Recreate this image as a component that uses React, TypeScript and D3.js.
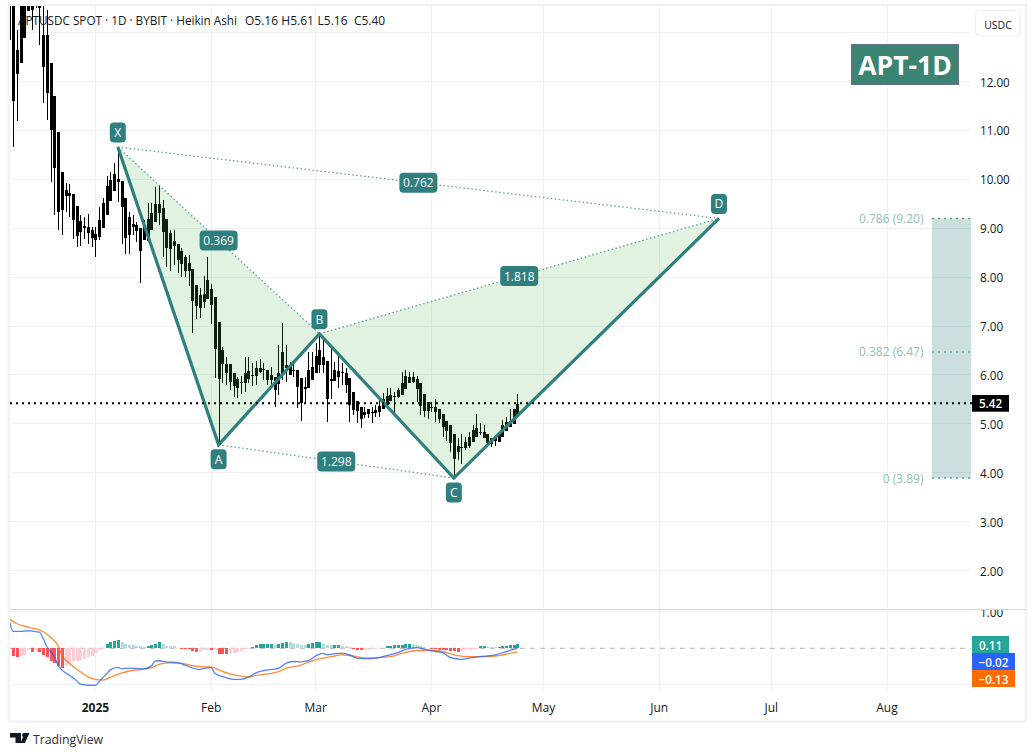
import React from "react";
import * as d3 from "d3";

// ---------- Data ----------
const firstCandleDate = Date.UTC(2024, 11, 9);
const highs = [
  14.2,14.5,13.05,14.4,14.2,14.2,14.2,14.3,14.2,14.2,
  13.46,12.38,11.70,10.97,10.15,9.93,9.90,9.70,9.45,9.27,
  9.23,9.29,9.02,9.02,9.43,9.62,10.07,10.15,10.33,10.66,
  9.97,9.62,9.33,9.27,9.13,9.00,9.17,9.52,9.52,9.84,
  9.86,9.58,9.19,8.96,8.96,8.68,8.60,8.45,8.45,8.17,
  7.84,7.78,8.02,8.41,7.86,7.59,7.08,6.57,6.37,6.22,
  6.04,5.96,5.98,6.37,6.37,6.24,6.28,6.33,6.24,6.10,
  6.16,5.96,6.61,7.06,6.61,6.27,6.24,6.10,5.94,5.96,
  6.47,6.47,6.65,6.82,6.78,6.28,6.55,6.26,6.39,6.24,
  6.14,5.94,5.65,5.47,5.34,5.34,5.30,5.34,5.39,5.49,
  5.63,5.73,5.73,5.65,5.73,6.06,6.10,6.06,6.06,5.98,
  5.84,5.61,5.45,5.45,5.51,5.30,5.20,5.06,4.98,4.79,
  4.71,4.79,4.73,4.83,4.98,5.20,5.02,4.98,4.79,4.71,
  4.77,4.79,5.08,5.14,5.30,5.30,5.61,
];
const bodyTops = [
  14.1,14.2,12.64,14.0,14.0,14.0,14.0,14.0,14.0,12.95,
  12.95,12.38,11.70,10.97,10.15,9.78,9.72,9.70,9.45,9.15,
  9.05,9.02,8.96,8.88,9.17,9.52,9.86,9.99,10.11,10.01,
  9.97,9.62,9.23,9.09,9.07,9.00,9.07,9.19,9.31,9.50,
  9.50,9.41,9.19,8.90,8.74,8.68,8.53,8.41,8.29,8.17,
  7.84,7.63,7.65,7.94,7.76,7.59,7.08,6.51,6.22,6.22,
  6.04,5.92,5.86,6.04,6.08,6.00,6.14,6.14,6.12,6.10,
  6.00,5.96,6.04,6.47,6.20,6.18,6.10,6.10,5.94,5.75,
  6.10,6.16,6.39,6.51,6.37,6.28,5.92,6.10,6.08,6.06,
  6.04,5.94,5.65,5.47,5.34,5.24,5.30,5.24,5.28,5.37,
  5.51,5.57,5.59,5.57,5.69,5.84,5.98,5.96,5.96,5.92,
  5.84,5.61,5.45,5.35,5.35,5.30,5.20,5.06,4.98,4.79,
  4.55,4.53,4.63,4.73,4.87,4.91,4.84,4.83,4.79,4.71,
  4.73,4.79,4.98,5.04,5.06,5.30,5.40,
];
const bodyBottoms = [
  14.0,11.60,12.15,12.38,12.89,13.44,13.46,13.55,13.50,12.30,
  11.77,11.01,10.23,9.33,9.37,9.66,9.66,9.17,8.84,8.92,
  9.00,8.90,8.80,8.76,8.82,9.00,9.27,9.56,9.76,9.95,
  9.43,8.80,8.86,9.02,8.94,8.53,8.76,8.74,8.96,9.13,
  9.31,8.92,8.60,8.57,8.64,8.35,8.27,8.12,8.12,7.51,
  7.41,7.37,7.49,7.55,7.43,6.53,5.92,6.22,6.04,5.86,
  5.77,5.73,5.84,5.84,5.92,5.98,5.98,6.06,6.10,5.90,
  5.90,5.69,5.81,6.02,6.14,6.00,6.08,5.75,5.43,5.71,
  5.73,5.90,6.04,6.20,6.20,5.51,5.88,5.88,5.96,6.04,
  5.79,5.39,5.28,5.26,5.10,5.18,5.20,5.22,5.22,5.24,
  5.30,5.39,5.47,5.55,5.55,5.59,5.71,5.84,5.86,5.71,
  5.37,5.26,5.26,5.33,5.24,5.10,4.93,4.85,4.61,4.28,
  4.42,4.51,4.51,4.55,4.63,4.73,4.82,4.71,4.61,4.59,
  4.65,4.63,4.73,4.85,4.93,4.99,5.14,
];
const lows = [
  12.85,10.66,11.19,12.38,12.89,13.44,13.05,13.50,12.75,11.56,
  11.21,9.95,9.27,8.96,8.86,9.33,9.23,8.78,8.62,8.64,
  8.78,8.68,8.62,8.41,8.76,9.00,9.27,9.56,9.76,9.54,
  8.68,8.47,8.47,8.86,8.72,7.88,8.76,8.74,8.96,9.13,
  9.07,8.41,8.21,8.12,8.25,8.08,8.00,8.00,7.82,6.86,
  7.14,7.16,7.37,7.55,7.04,5.94,4.57,5.84,5.79,5.69,
  5.55,5.53,5.61,5.65,5.84,5.77,5.79,6.04,5.90,5.79,
  5.73,5.34,5.59,5.90,5.86,6.00,5.96,5.32,5.06,5.43,
  5.73,5.90,6.04,6.04,6.04,5.04,5.51,5.88,5.73,5.79,
  5.63,5.04,5.18,5.02,4.91,5.12,5.12,5.02,5.14,5.14,
  5.30,5.39,5.47,5.18,5.53,5.59,5.71,5.84,5.84,5.45,
  5.18,5.14,5.10,5.24,5.04,5.02,4.73,4.65,4.42,3.91,
  4.26,4.18,4.47,4.51,4.63,4.73,4.77,4.71,4.53,4.53,
  4.55,4.63,4.73,4.85,4.93,4.99,5.14,
];

// MACD histogram, one bar per day, starting on the second candle
const histogram = [
  -.21,-.25,-.22,-.18,-.06,-.09,-.08,-.09,-.18,-.25,-.35,-.41,-.49,-.55,-.49,-.43,-.36,-.35,-.32,-.30,-.25,-.21,-.12,-.06,-.01,
  .11,.18,.20,.23,.16,.11,.09,.085,.07,.05,.04,.05,.10,.12,.16,.12,.07,.06,.05,.02,
  -.02,-.02,-.03,-.07,-.10,-.09,-.05,-.04,-.06,-.04,-.15,-.16,-.165,-.15,-.14,-.11,-.07,-.03,-.01,
  .04,.08,.11,.12,.12,.125,.10,.125,.15,.18,.16,.15,.12,.10,.095,.12,.145,.165,.18,.12,.09,.08,.095,.10,.06,.05,.03,
  -.03,-.04,-.06,-.05,-.04,-.03,-.02,
  .01,.005,.05,.055,.08,.085,.09,.11,.12,.11,.08,.05,.03,.01,
  -.02,-.03,-.035,-.04,-.05,-.07,-.08,-.095,-.07,-.05,-.045,-.03,-.01,
  .05,.055,.04,.035,.03,.04,.055,.075,.08,.10,.11,
];
// MACD and signal lines, values read at these days after 1 Jan 2025
const macdDays = [-23,-22,-20,-18,-17,-15,-14,-13,-11,-10,-9,-7,-5,-4,-2,0,1,3,4,6,7,9,11,13,15,16,17,19,22,24,28,29,31,32,35,37,39,41,43,45,49,51,53,55,57,59,61,62,65,66,68,70,73,75,78,81,83,86,88,90,93,95,98,100,103,107,110,113];
const macdValues = [.73,.46,.46,.48,.47,.44,.27,.05,-.23,-.46,-.59,-.73,-.89,-.98,-1.01,-1.01,-.91,-.70,-.59,-.52,-.56,-.54,-.55,-.56,-.48,-.35,-.34,-.37,-.39,-.46,-.58,-.55,-.53,-.68,-.80,-.85,-.85,-.79,-.67,-.61,-.55,-.41,-.36,-.37,-.34,-.21,-.14,-.18,-.14,-.14,-.18,-.27,-.29,-.27,-.20,-.12,-.03,.02,-.02,-.07,-.12,-.25,-.30,-.27,-.23,-.18,-.09,0];
const signalDays = [-23,-21,-18,-15,-14,-12,-10,-9,-7,-4,-2,0,2,4,7,9,12,15,17,20,23,25,28,31,33,36,39,41,43,46,49,51,53,55,57,60,63,66,69,72,75,79,82,86,90,93,97,100,104,107,110,113];
const signalValues = [.80,.67,.58,.50,.46,.30,.07,-.18,-.41,-.64,-.78,-.85,-.87,-.79,-.68,-.62,-.58,-.53,-.44,-.40,-.41,-.45,-.50,-.51,-.59,-.70,-.76,-.78,-.74,-.70,-.64,-.55,-.50,-.46,-.38,-.29,-.23,-.18,-.21,-.26,-.26,-.23,-.14,-.06,-.06,-.09,-.20,-.23,-.23,-.21,-.16,-.10];

// Harmonic pattern
const patternNames = ["X", "A", "B", "C", "D"];
const patternDates = ["2025-01-07", "2025-02-03", "2025-03-02", "2025-04-07", "2025-06-17"];
const patternPrices = [10.66, 4.57, 6.84, 3.89, 9.2];
const ratioLinks = [[0, 2, "0.369"], [1, 3, "1.298"], [0, 4, "0.762"], [2, 4, "1.818"]] as const;

const fibRatios = ["0.786", "0.382", "0"];
const fibPrices = [9.2, 6.47, 3.89];

const priceTicks = [12, 11, 10, 9, 8, 7, 6, 5, 4, 3, 2];
const gridOnlyTicks = [13];
const macdGridTicks = [1, -1];
const monthTicks = [
  ["2025", "2025-01-01"], ["Feb", "2025-02-01"], ["Mar", "2025-03-01"], ["Apr", "2025-04-01"],
  ["May", "2025-05-01"], ["Jun", "2025-06-01"], ["Jul", "2025-07-01"], ["Aug", "2025-08-01"],
] as const;
const lastPrice = 5.42;
const titleText = "APTUSDC SPOT · 1D · BYBIT · Heikin Ashi";
const ohlcText = ["O5.16", "H5.61", "L5.16", "C5.40"];
const macdTags = [["0.11", "#26a69a"], ["−0.02", "#2962ff"], ["−0.13", "#ff6d00"]];

// ---------- Layout ----------
const W = 1035, H = 756;
const paneL = 10, paneR = 971, mainT = 6, mainB = 608, macdT = 610, macdB = 693;
const FONT = "'Open Sans', 'Noto Sans', sans-serif";
const TEAL = "#2f7f7f";
const INK = "#131722";
const GRID = "#eff1f4";
const DAY = 86400000;

const x = d3.scaleUtc().domain([Date.UTC(2025, 0, 1), Date.UTC(2025, 7, 1)]).range([95.4, 887]);
const y = d3.scaleLinear().domain([12, 2]).range([81.5, 570.5]);
const ym = d3.scaleLinear().domain([1, -1]).range([611.7, 684.9]);
const dayX = (d: number) => x(Date.UTC(2025, 0, 1) + d * DAY);
const candleX = (i: number) => Math.round(x(firstCandleDate + i * DAY)) + 0.5;
const dateX = (s: string) => x(new Date(s + "T00:00:00Z"));

const macdLine = d3.line<number>().x((d) => dayX(d)).y((_, i) => ym(macdValues[i])).curve(d3.curveMonotoneX);
const signalLine = d3.line<number>().x((d) => dayX(d)).y((_, i) => ym(signalValues[i])).curve(d3.curveMonotoneX);

const pts = patternNames.map((n, i) => ({ n, x: dateX(patternDates[i]), y: y(patternPrices[i]) }));
const tri = (a: number, b: number, c: number) => `M${pts[a].x},${pts[a].y}L${pts[b].x},${pts[b].y}L${pts[c].x},${pts[c].y}Z`;
const zigzag = d3.line<{ x: number; y: number }>().x((p) => p.x).y((p) => p.y)(pts) as string;

function histColor(i: number) {
  const v = histogram[i];
  const prev = i > 0 ? histogram[i - 1] : v;
  if (v >= 0) return v >= prev ? "#26a69a" : "#b2dfdb";
  return v <= prev ? "#ff5252" : "#ffcdd2";
}

function Label(p: any) {
  const { x: px, y: py, children, ...rest } = p;
  return (
    <text x={px} y={py} dominantBaseline="central" fontFamily={FONT} fontSize={11.7} fill={INK} {...rest}>
      {children}
    </text>
  );
}

export default function App() {
  return (
    <svg width={W} height={H} viewBox={`0 0 ${W} ${H}`} style={{ position: "absolute", left: 0, top: 0, display: "block", background: "#fff" }}>
      <defs>
        <clipPath id="mainClip"><rect x={paneL} y={mainT} width={paneR - paneL} height={mainB - mainT} /></clipPath>
        <clipPath id="macdClip"><rect x={paneL} y={macdT} width={paneR - paneL} height={macdB - macdT} /></clipPath>
        <clipPath id="axisClip"><rect x={972} y={610} width={52} height={100} /></clipPath>
      </defs>

      {/* frame */}
      <rect x={9} y={5} width={1017} height={716.5} fill="none" stroke="#f2f3f5" strokeWidth={2.5} />

      {/* grid */}
      <g stroke={GRID} strokeWidth={1} shapeRendering="crispEdges">
        {[...gridOnlyTicks, ...priceTicks].map((t) => (
          <line key={t} x1={paneL} x2={paneR} y1={y(t)} y2={y(t)} />
        ))}
        {macdGridTicks.map((t) => (
          <line key={t} x1={paneL} x2={paneR} y1={ym(t)} y2={ym(t)} />
        ))}
        {monthTicks.map(([n, d]) => (
          <line key={n} x1={dateX(d)} x2={dateX(d)} y1={mainT} y2={macdB} />
        ))}
      </g>
      <line x1={paneL} x2={1025} y1={609} y2={609} stroke="#d6d8df" strokeWidth={1} shapeRendering="crispEdges" />

      {/* candles */}
      <g clipPath="url(#mainClip)" fill="#000" shapeRendering="crispEdges">
        {highs.map((h, i) => {
          const cx = candleX(i);
          const top = y(bodyTops[i]);
          const bot = y(bodyBottoms[i]);
          return (
            <g key={i}>
              <rect x={cx - 0.5} y={y(h)} width={1} height={y(lows[i]) - y(h)} />
              <rect x={cx - 1.5} y={top} width={3} height={Math.max(1, bot - top)} />
            </g>
          );
        })}
      </g>

      {/* harmonic pattern */}
      <path d={tri(0, 1, 2)} fill="#4caf50" fillOpacity={0.17} />
      <path d={tri(2, 3, 4)} fill="#4caf50" fillOpacity={0.17} />
      {ratioLinks.map(([a, b]) => (
        <line key={`${a}${b}`} x1={pts[a].x} y1={pts[a].y} x2={pts[b].x} y2={pts[b].y} stroke={TEAL} strokeOpacity={0.75} strokeWidth={1.3} strokeDasharray="1.5 2.5" />
      ))}
      <path d={zigzag} fill="none" stroke={TEAL} strokeWidth={3.2} strokeLinejoin="miter" />
      {ratioLinks.map(([a, b, t]) => {
        const mx = (pts[a].x + pts[b].x) / 2;
        const my = (pts[a].y + pts[b].y) / 2;
        return (
          <g key={t}>
            <rect x={mx - 19} y={my - 10} width={38} height={20} rx={4} fill={TEAL} />
            <Label x={mx} y={my} fill="#fff" textAnchor="middle" fontWeight={500} fontSize={12}>{t}</Label>
          </g>
        );
      })}
      {pts.map((p) => {
        const above = p.n === "X" || p.n === "B" || p.n === "D";
        const cy = p.y + (above ? -14.5 : 14.5);
        return (
          <g key={p.n}>
            <rect x={p.x - 8} y={cy - 10} width={16} height={20} rx={4} fill={TEAL} />
            <Label x={p.x} y={cy} fill="#fff" textAnchor="middle" fontWeight={500} fontSize={12}>{p.n}</Label>
          </g>
        );
      })}

      {/* fib target zone */}
      <rect x={932} y={y(fibPrices[0])} width={39} height={y(fibPrices[2]) - y(fibPrices[0])} fill={TEAL} fillOpacity={0.25} />
      {fibPrices.map((p, i) => (
        <g key={p}>
          <line x1={932} x2={971} y1={y(p)} y2={y(p)} stroke="#5f9f98" strokeWidth={1.5} strokeDasharray="2 4" />
          <Label x={923.5} y={y(p)} textAnchor="end" fontSize={12} fill="#92bdb6">{`${fibRatios[i]} (${p.toFixed(2)})`}</Label>
        </g>
      ))}

      {/* last price line */}
      <line x1={paneL} x2={972} y1={y(lastPrice)} y2={y(lastPrice)} stroke="#000" strokeWidth={2} strokeDasharray="2 4" />

      {/* legend */}
      <Label x={18} y={20} fontSize={12} textLength={219} lengthAdjust="spacingAndGlyphs">{titleText}</Label>
      {ohlcText.map((t, i) => (
        <Label key={t} x={245 + i * 36.3} y={20} fontSize={12}>{t}</Label>
      ))}

      {/* MACD pane */}
      <line x1={paneL} x2={paneR} y1={ym(0)} y2={ym(0)} stroke="#b2b5be" strokeWidth={1} strokeDasharray="5 5" />
      <g clipPath="url(#macdClip)">
        <g shapeRendering="crispEdges">
          {histogram.map((v, i) => {
            const cx = candleX(i + 1);
            const y0 = ym(0);
            const yv = ym(v);
            return <rect key={i} x={cx - 1.5} y={Math.min(y0, yv)} width={3} height={Math.abs(yv - y0)} fill={histColor(i)} />;
          })}
        </g>
        <path d={signalLine(signalDays) as string} fill="none" stroke="#ff6d00" strokeWidth={1.3} strokeOpacity={0.8} />
        <path d={macdLine(macdDays) as string} fill="none" stroke="#2962ff" strokeWidth={1.3} strokeOpacity={0.8} />
      </g>

      {/* price axis */}
      {priceTicks.map((t) => (
        <Label key={t} x={980} y={y(t)}>{t.toFixed(2)}</Label>
      ))}
      <g clipPath="url(#axisClip)">
        <Label x={980} y={ym(1)}>1.00</Label>
      </g>
      <rect x={972} y={395} width={37} height={16.7} fill="#000" />
      <Label x={990.5} y={y(lastPrice)} fill="#fff" textAnchor="middle" fontWeight={600}>{lastPrice.toFixed(2)}</Label>
      {macdTags.map(([t, c], i) => {
        const w = i === 0 ? 37 : 43;
        const ty = 636 + i * 17;
        return (
          <g key={t}>
            <rect x={972} y={ty} width={w} height={17} fill={c} />
            <Label x={972 + w / 2} y={ty + 8.5} fill="#fff" textAnchor="middle" fontWeight={600}>{t}</Label>
          </g>
        );
      })}
      <rect x={975.5} y={10.5} width={45} height={25.5} rx={4} fill="#fff" stroke="#eceef2" />
      <Label x={998} y={24} textAnchor="middle" fontSize={11} textLength={27.5} lengthAdjust="spacingAndGlyphs">USDC</Label>

      {/* title box */}
      <rect x={851.75} y={44.75} width={106.5} height={39.5} fill="#3b8472" stroke="#5e7387" strokeWidth={1.5} />
      <Label x={905} y={64.5} fill="#fff" textAnchor="middle" fontWeight={700} fontSize={26.5}>APT-1D</Label>

      {/* time axis */}
      {monthTicks.map(([n, d]) => (
        <Label key={n} x={dateX(d)} y={707} textAnchor="middle" fontSize={12} fontWeight={n === "2025" ? 700 : 400}>{n}</Label>
      ))}

      {/* TradingView mark */}
      <g fill={INK}>
        <path d="M10 733H21V743H15.5V737.5H10Z" />
        <circle cx={24} cy={735} r={2} />
        <path d="M24.5 733H29.5L25 743H20.5Z" />
      </g>
      <Label x={33} y={738.5} fontSize={13.5} fill="#2a2e39" textLength={70} lengthAdjust="spacingAndGlyphs">TradingView</Label>
    </svg>
  );
}
